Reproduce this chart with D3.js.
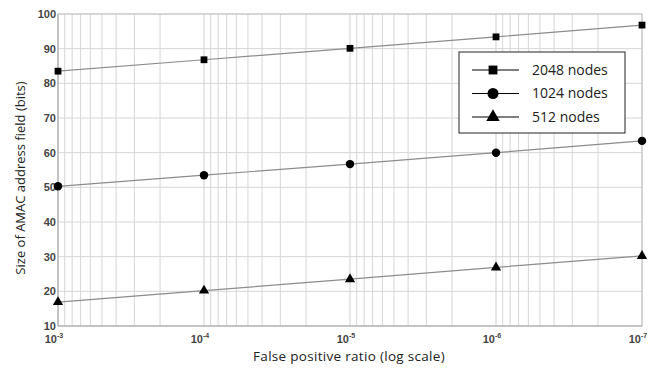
<!DOCTYPE html>
<html>
<head>
<meta charset="utf-8">
<script src="https://cdn.jsdelivr.net/npm/d3@7"></script>
<style>
  body { margin: 0; background: #fff; }
  svg { display: block; }
</style>
</head>
<body>
<div id="graph"></div>
<script>
// false positive ratio exponents and AMAC field sizes
var ratios = [1e-3, 1e-4, 1e-5, 1e-6, 1e-7];
var nodes2048 = [83.5, 86.8, 90.1, 93.4, 96.8];
var nodes1024 = [50.3, 53.5, 56.7, 60.0, 63.4];
var nodes512 = [16.9, 20.2, 23.5, 26.9, 30.2];
var yTicks = [10, 20, 30, 40, 50, 60, 70, 80, 90, 100];
var xExps = [-3, -4, -5, -6, -7];

var series = [
  {name: "2048 nodes", values: nodes2048, shape: d3.symbolSquare, size: 46},
  {name: "1024 nodes", values: nodes1024, shape: d3.symbolCircle, size: 56},
  {name: "512 nodes", values: nodes512, shape: d3.symbolTriangle, size: 46}
];

var width = 660;
var height = 374;
// note: "top" is taken by window.top, so plot edges get their own names
var padL = 58, padR = 642, padT = 14, padB = 326;

var svg = d3.select("#graph").
append("svg").
attr("width", width).
attr("height", height);

var xScale = d3.scaleLog().domain([1e-3, 1e-7]).range([padL, padR]);
var yScale = d3.scaleLinear().domain([10, 100]).range([padB, padT]);

// minor grid lines: 2..9 x 10^k in each decade
var minor = [];
for (var k = -4; k >= -7; k--) {
  for (var m = 2; m <= 9; m++) minor.push(m * Math.pow(10, k));
}

var grid = svg.append("g").attr("class", "grid");

grid.selectAll("line.minor").
data(minor).
enter().
append("line").
attr("x1", function (d) {return xScale(d);}).
attr("x2", function (d) {return xScale(d);}).
attr("y1", padT).
attr("y2", padB).
style("stroke", "#d6d6d6").
style("stroke-width", 1);

grid.selectAll("line.major").
data(ratios).
enter().
append("line").
attr("x1", function (d) {return xScale(d);}).
attr("x2", function (d) {return xScale(d);}).
attr("y1", padT).
attr("y2", padB).
style("stroke", "#cfcfcf").
style("stroke-width", 1);

grid.selectAll("line.hor").
data(yTicks).
enter().
append("line").
attr("x1", padL).
attr("x2", padR).
attr("y1", function (d) {return yScale(d);}).
attr("y2", function (d) {return yScale(d);}).
style("stroke", "#d6d6d6").
style("stroke-width", 1);

// frame
svg.append("rect").
attr("x", padL).
attr("y", padT).
attr("width", padR - padL).
attr("height", padB - padT).
style("fill", "none").
style("stroke", "#c4c4c4");

svg.append("line").
attr("x1", padL).attr("x2", padL).attr("y1", padT).attr("y2", padB).
style("stroke", "#b0b0b0");
svg.append("line").
attr("x1", padL).attr("x2", padR).attr("y1", padB).attr("y2", padB).
style("stroke", "#b0b0b0");

// y tick labels
svg.selectAll("text.ytick").
data(yTicks).
enter().
append("text").
attr("x", padL - 2).
attr("y", function (d) {return yScale(d);}).
attr("dy", "0.36em").
style("text-anchor", "end").
style("font-family", "Liberation Sans, Arial").
style("font-size", "11px").
style("font-weight", "bold").
style("fill", "#444").
text(function (d) {return d;});

// x tick labels: 10 with superscript exponent
var xt = svg.selectAll("text.xtick").
data(xExps).
enter().
append("text").
attr("x", function (d) {return xScale(Math.pow(10, d)) - 4;}).
attr("y", padB + 17).
style("text-anchor", "middle").
style("font-family", "Liberation Sans, Arial").
style("font-size", "11px").
style("font-weight", "bold").
style("fill", "#444");

xt.append("tspan").text("10");
xt.append("tspan").
attr("dy", -5).
style("font-size", "7px").
text(function (d) {return d;});

// lines and markers
var line = d3.line().
x(function (d, i) {return xScale(ratios[i]);}).
y(function (d) {return yScale(d);});

series.forEach(function (s) {
  svg.append("path").
  datum(s.values).
  attr("d", line).
  style("fill", "none").
  style("stroke", "#8c8c8c").
  style("stroke-width", 1.2);

  svg.selectAll(null).
  data(s.values).
  enter().
  append("path").
  attr("d", d3.symbol().type(s.shape).size(s.size)).
  attr("transform", function (d, i) {return "translate(" + xScale(ratios[i]) + "," + yScale(d) + ")";}).
  style("fill", "#000");
});

// legend
var legend = svg.append("g").attr("id", "legend");

legend.append("rect").
attr("x", 459).
attr("y", 52).
attr("width", 166).
attr("height", 81).
style("fill", "#fff").
style("stroke", "#222").
style("stroke-width", 1);

series.forEach(function (s, i) {
  var ly = 70 + i * 23.5;
  legend.append("line").
  attr("x1", 472).attr("x2", 519).
  attr("y1", ly).attr("y2", ly).
  style("stroke", "#000").
  style("stroke-width", 1.2);
  legend.append("path").
  attr("d", d3.symbol().type(s.shape).size(s.size * 1.7)).
  attr("transform", "translate(493," + ly + ")").
  style("fill", "#000");
  legend.append("text").
  attr("x", 532).
  attr("y", ly).
  attr("dy", "0.35em").
  style("font-family", "Open Sans").
  style("font-size", "14px").
  style("fill", "#222").
  text(s.name);
});

// axis titles
svg.append("text").
attr("x", 349).
attr("y", 361).
style("text-anchor", "middle").
style("font-family", "Open Sans").
style("font-size", "13.5px").
style("letter-spacing", "0.3px").
style("fill", "#222").
text("False positive ratio (log scale)");

svg.append("text").
attr("transform", "translate(25,178) rotate(-90)").
style("text-anchor", "middle").
style("font-family", "Open Sans").
style("font-size", "13px").
style("fill", "#222").
text("Size of AMAC address field (bits)");
</script>
</body>
</html>
